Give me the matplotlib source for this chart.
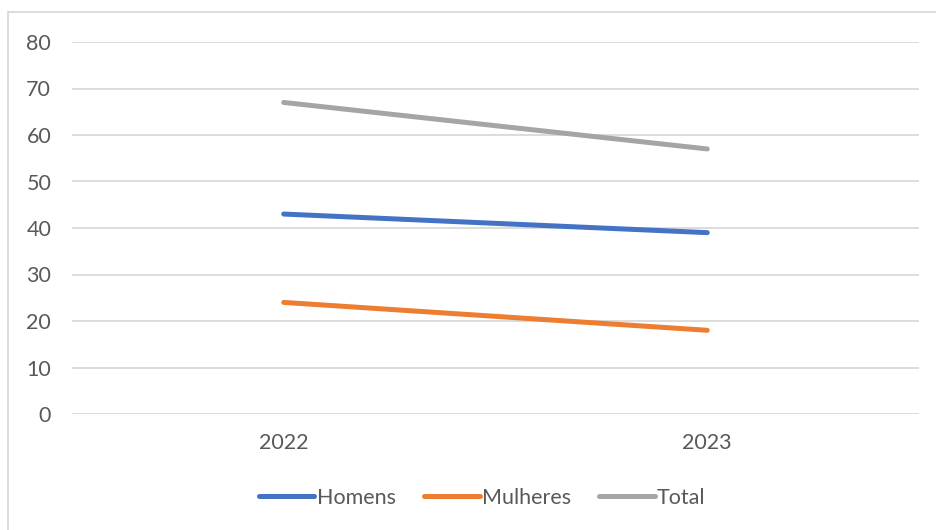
import matplotlib
matplotlib.use("Agg")
import matplotlib.pyplot as plt
from matplotlib.patches import Rectangle

# Data
years = ["2022", "2023"]
homens = [43, 39]
mulheres = [24, 18]
total = [67, 57]

SERIES = [
    ("Homens", homens, "#4472C4"),
    ("Mulheres", mulheres, "#ED7D31"),
    ("Total", total, "#A5A5A5"),
]

plt.rcParams['font.family'] = ['Lato', 'DejaVu Sans']
TEXT = "#595959"
FS = 15.5

fig = plt.figure(figsize=(9.36, 5.3), dpi=100)
fig.patch.set_facecolor("white")

# chart area border
fig.add_artist(Rectangle((8 / 936, -0.05), 1.0, 1 - 12 / 530 + 0.05,
                         transform=fig.transFigure, fill=False,
                         edgecolor="#D9D9D9", linewidth=1.3))

ax = fig.add_axes([72 / 936, 1 - 414 / 530, (919 - 72) / 936, (414 - 42) / 530])
ax.set_facecolor("none")

x = list(range(len(years)))
for name, vals, color in SERIES:
    ax.plot(x, vals, color=color, linewidth=3.6, solid_capstyle="round",
            label=name, zorder=3)

ax.set_xlim(-0.5, len(years) - 0.5)
ax.set_ylim(0, 80)
ax.set_yticks(range(0, 81, 10))
ax.set_xticks(x)
ax.set_xticklabels(years)

ax.grid(axis="y", color="#D9D9D9", linewidth=1.3)
ax.set_axisbelow(True)
for spine in ax.spines.values():
    spine.set_visible(False)
ax.tick_params(axis="both", length=0, labelsize=FS, labelcolor=TEXT)
ax.tick_params(axis="y", pad=15)
ax.tick_params(axis="x", pad=14)

fig.legend(loc="center", bbox_to_anchor=(482 / 936, 1 - 498 / 530), ncol=3,
           frameon=False, fontsize=FS, labelcolor=TEXT,
           handlelength=2.6, handletextpad=0.1, columnspacing=1.3)

fig.savefig("out.png", dpi=100, facecolor="white")
